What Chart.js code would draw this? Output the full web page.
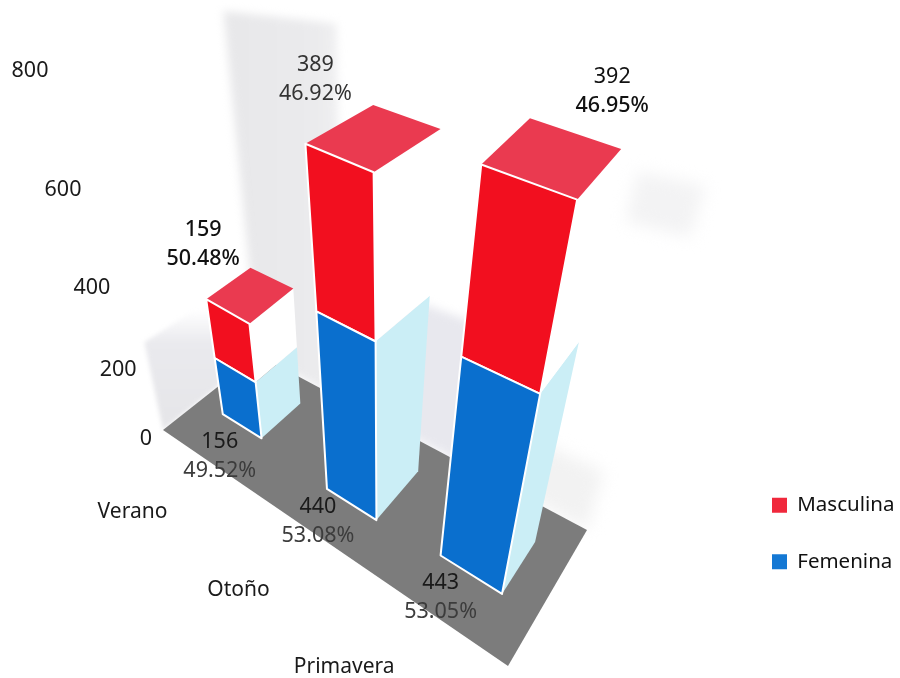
<!DOCTYPE html>
<html>
<head>
<meta charset="utf-8">
<style>html,body{margin:0;padding:0;background:#fff}canvas{display:block}</style>
<script src="https://cdn.jsdelivr.net/npm/chart.js@4"></script>
</head>
<body>
<canvas id="c" width="900" height="678"></canvas>
<script>
const categories = ['Verano', 'Otoño', 'Primavera'];
const femenina = [156, 440, 443];
const masculina = [159, 389, 392];
const femeninaPct = ['49.52%', '53.08%', '53.05%'];
const masculinaPct = ['50.48%', '46.92%', '46.95%'];
const yTicks = [0, 200, 400, 600, 800];

// Camera: floor quad corners (u,v)=(0,0),(1,0),(1,1),(0,1) and vertical vanishing point
const Q = [[163,430],[508,666],[587,530],[258,355]];
const NADIR = [358,1350];
const dx1=Q[1][0]-Q[2][0], dy1=Q[1][1]-Q[2][1], dx2=Q[3][0]-Q[2][0], dy2=Q[3][1]-Q[2][1];
const sx=Q[0][0]-Q[1][0]+Q[2][0]-Q[3][0], sy=Q[0][1]-Q[1][1]+Q[2][1]-Q[3][1];
const den=dx1*dy2-dx2*dy1;
const hg=(sx*dy2-dx2*sy)/den, hh=(dx1*sy-sx*dy1)/den;
const ha=Q[1][0]-Q[0][0]+hg*Q[1][0], hb=Q[3][0]-Q[0][0]+hh*Q[3][0];
const hd=Q[1][1]-Q[0][1]+hg*Q[1][1], he=Q[3][1]-Q[0][1]+hh*Q[3][1];
function project(u,v,n){
  const w=hg*u+hh*v+1;
  const gx=(ha*u+hb*v+Q[0][0])/w, gy=(hd*u+he*v+Q[0][1])/w;
  const t=0.312/Math.pow(w,1.45)*n, f=t+0.216*t*t;
  return [gx+(gx-NADIR[0])*f, gy+(gy-NADIR[1])*f];
}
// Layout tweaks of each band on the floor
const bandShift=[-0.005,0.044,0.018], bandFront=[0.368,0.305,0.333], bandDeep=[0.42,0.47,0.41], bandLean=[0,-0.02,0];
const bandRise=[1,0.975,1.015], bandDrop=[0.04,0.03,0.025], bandBack=[0.03,0.03,0.03];
const topLabelOffset=[[-3,-69],[10,-79],[131,-88]], lowLabelOffset=[[-3,28],[-9,18],[0,27]];
const FONT='"Noto Sans"', LABEL=21.5;

function poly(ctx,pts,fill,stroke){
  ctx.beginPath();pts.forEach((p,i)=>i?ctx.lineTo(p[0],p[1]):ctx.moveTo(p[0],p[1]));ctx.closePath();
  if(fill){ctx.fillStyle=fill;ctx.fill();}
  if(stroke){ctx.strokeStyle=stroke;ctx.lineWidth=2;ctx.lineJoin='round';ctx.stroke();}
}
function txt(ctx,s,x,y,color,size,weight){
  ctx.font=(weight||'400')+' '+(size||LABEL)+'px '+FONT;ctx.fillStyle=color;ctx.textAlign='center';ctx.textBaseline='middle';ctx.fillText(s,x,y);
}
function wallPatch(ctx,u0,u1,n0,n1,fill,blur){
  ctx.save();ctx.filter='blur('+blur+'px)';
  poly(ctx,[project(u0,1,n0),project(u1,1,n0),project(u1,1,n1),project(u0,1,n1)],fill);
  ctx.restore();
}
const scene={
  id:'scene',
  afterLayout(chart){
    const l=chart.legend;const w=l.width;l.left=736;l.right=736+w;l.top=459;l.bottom=678;
  },
  beforeDatasetDraw(){return false;},
  beforeDatasetsDraw(chart){
    const ctx=chart.ctx;
    // washed-out back walls
    let g=ctx.createLinearGradient(235,0,400,0);
    g.addColorStop(0,'#e8e8ea');g.addColorStop(.5,'#ebebed');g.addColorStop(1,'#ffffff');
    wallPatch(ctx,0,.32,0,1.22,g,4);
    wallPatch(ctx,.3,.72,0,.43,'#e8e8ee',5);
    wallPatch(ctx,.74,1,0,.17,'#f2f2f2',8);
    wallPatch(ctx,.93,1.03,.82,.95,'#f3f3f4',8);
    g=ctx.createLinearGradient(0,310,0,420);
    g.addColorStop(0,'#ffffff');g.addColorStop(.3,'#eaeaee');g.addColorStop(1,'#e6e6e9');
    ctx.save();ctx.filter='blur(2px)';
    poly(ctx,[project(0,0,0),project(0,1,0),project(0,1,.3),project(0,0,.3)],g);
    ctx.restore();
    // floor
    poly(ctx,[project(0,0,0),project(1,0,0),project(1,1,0),project(0,1,0)],'#7c7c7c');
  },
  afterDatasetsDraw(chart){
    const ctx=chart.ctx,a=chart.chartArea,ys=chart.scales.y,xs=chart.scales.x;
    const W=a.right-a.left,H=a.bottom-a.top;
    const N=px=>(a.bottom-px)/H;
    const f=chart.getDatasetMeta(0).data,m=chart.getDatasetMeta(1).data;
    const frames=categories.map((c,i)=>{
      const e0=f[i].getProps(['x','y','base','width'],true),e1=m[i].getProps(['x','y','base','width'],true);
      const uc=(e0.x-a.left)/W+bandShift[i],hw=e0.width/W/2;
      const u0=uc-hw,v0=bandFront[i];
      const P=(s,d,n)=>{
        const k=n*bandRise[i]*(1-bandDrop[i]*s*(1-d)+bandBack[i]*(1-s)*d);
        return project(u0+2*hw*s+bandLean[i]*n*(1-.9*d),v0+bandDeep[i]*d,k);
      };
      return {P,nb:N(e0.base),nm:N(e0.y),nt:N(e1.y)};
    });
    frames.forEach(({P,nb,nm,nt})=>{
      // side
      poly(ctx,[P(1,0,nb),P(1,1,nb),P(1,1,nm),P(1,0,nm)],'#cbeef6');
      poly(ctx,[P(1,0,nm),P(1,1,nm),P(1,1,nt),P(1,0,nt)],'#ffffff');
      // top
      poly(ctx,[P(0,0,nt),P(1,0,nt),P(1,1,nt),P(0,1,nt)],'#ea3a50');
      // front
      poly(ctx,[P(0,0,nm),P(1,0,nm),P(1,0,nt),P(0,0,nt)],'#f20f1f','#ffffff');
      poly(ctx,[P(0,0,nb),P(1,0,nb),P(1,0,nm),P(0,0,nm)],'#0a6fce','#ffffff');
    });
    // axis labels
    ys.ticks.forEach(t=>{
      const n=N(ys.getPixelForValue(t.value)),s=.69*n/(1-.31*n);
      txt(ctx,String(t.value),146-116*Math.pow(s,.85),438.5-368*s,'#1a1a1a');
    });
    categories.forEach((c,i)=>{
      const uc=(xs.getPixelForValue(i)-a.left)/W+bandShift[i];
      const p=project(.89*uc,-.6+.1*uc,0);
      txt(ctx,c,p[0],p[1],'#1a1a1a',21);
    });
    // value labels
    frames.forEach(({P,nb,nt},i)=>{
      const t=P(0,0,nt),b=P(0,0,nb);
      const tx=t[0]+topLabelOffset[i][0],ty=t[1]+topLabelOffset[i][1];
      txt(ctx,String(masculina[i]),tx,ty,i===1?'#333':'#111',LABEL,i===0?'500':'400');
      txt(ctx,masculinaPct[i],tx,ty+29,i===1?'#333':'#111',LABEL,i===1?'400':'500');
      const bx=b[0]+lowLabelOffset[i][0],by=b[1]+lowLabelOffset[i][1];
      txt(ctx,String(femenina[i]),bx,by,'#1a1a1a');
      txt(ctx,femeninaPct[i],bx,by+29,'#3c3c3c');
    });
  }
};
new Chart(document.getElementById('c'),{
  type:'bar',
  data:{labels:categories,datasets:[
    {label:'Femenina',data:femenina,backgroundColor:'#1478d4',borderWidth:0},
    {label:'Masculina',data:masculina,backgroundColor:'#f0283c',borderWidth:0}
  ]},
  options:{
    responsive:false,animation:false,
    categoryPercentage:1,barPercentage:.435,
    layout:{padding:0},
    scales:{
      x:{stacked:true,display:false},
      y:{stacked:true,display:false,min:yTicks[0],max:yTicks[yTicks.length-1],
         afterBuildTicks(scale){scale.ticks=yTicks.map(value=>({value}));}}
    },
    plugins:{
      tooltip:{enabled:false},
      legend:{position:'right',align:'start',reverse:true,labels:{boxWidth:15,boxHeight:15,padding:36,color:'#111',font:{family:FONT,size:20.5}}}
    }
  },
  plugins:[scene]
});
</script>
</body>
</html>
